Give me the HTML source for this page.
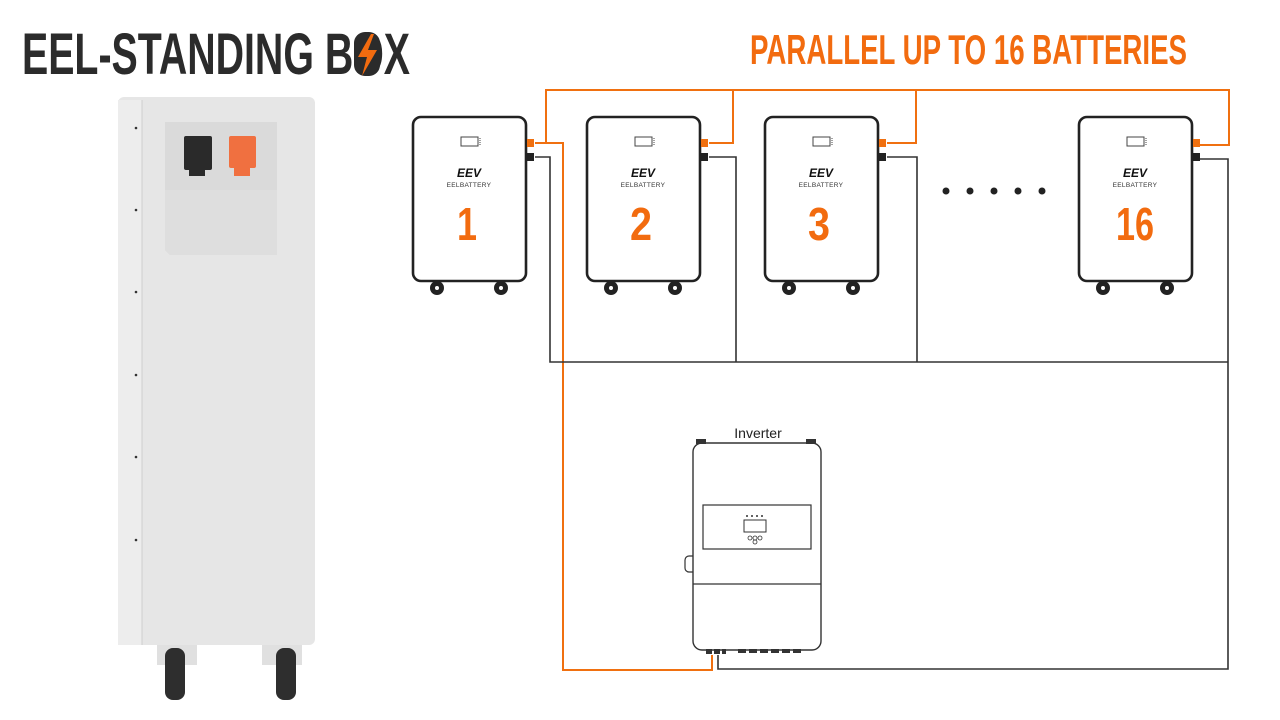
<!DOCTYPE html>
<html><head><meta charset="utf-8"><style>
html,body{margin:0;padding:0;background:#fff;width:1280px;height:720px;overflow:hidden}
svg{display:block}
</style></head><body>
<svg width="1280" height="720" viewBox="0 0 1280 720" xmlns="http://www.w3.org/2000/svg">
<defs>
<g id="bat">
  <rect x="0" y="0" width="113" height="164" rx="8" fill="#fff" stroke="#222" stroke-width="2.6"/>
  <rect x="48" y="20" width="17" height="9" fill="none" stroke="#444" stroke-width="1"/>
  <line x1="67" y1="21" x2="67" y2="28" stroke="#444" stroke-width="1" stroke-dasharray="1,1"/>
  <text x="56" y="60" font-family="Liberation Sans, sans-serif" font-weight="bold" font-style="italic" font-size="12" text-anchor="middle" fill="#111">EEV</text>
  <text x="56" y="70" font-family="Liberation Sans, sans-serif" font-size="6.5" text-anchor="middle" fill="#333" letter-spacing="0.3">EELBATTERY</text>
  <circle cx="24" cy="171" r="7" fill="#222"/><circle cx="24" cy="171" r="2" fill="#fff"/>
  <circle cx="88" cy="171" r="7" fill="#222"/><circle cx="88" cy="171" r="2" fill="#fff"/>
  <rect x="114" y="22" width="7" height="8" fill="#f07010"/>
  <rect x="114" y="36" width="7" height="8" fill="#222"/>
</g>
</defs>

<text x="22" y="74" font-family="Liberation Sans, sans-serif" font-weight="bold" font-size="58" fill="#2b2b2b" textLength="388" lengthAdjust="spacingAndGlyphs">EEL-STANDING BOX</text>
<rect x="354" y="32" width="26" height="44" rx="11" fill="#2b2b2b"/>
<path d="M371 34 L358 57 L367 57 L362 76 L377 50 L368 50 L374 34 Z" fill="#f26b0f"/>
<text x="750" y="64" font-family="Liberation Sans, sans-serif" font-weight="bold" font-size="42" fill="#f26b0f" textLength="437" lengthAdjust="spacingAndGlyphs">PARALLEL UP TO 16 BATTERIES</text>

<!-- left product -->
<rect x="118" y="97" width="197" height="548" rx="6" fill="#e6e6e6"/>
<rect x="118" y="100" width="24" height="545" fill="#ededed"/>
<line x1="142" y1="100" x2="142" y2="645" stroke="#cfcfcf" stroke-width="1"/>
<path d="M165 122 H277 V255 H170 L165 250 Z" fill="#dadada"/>
<path d="M165 190 H277 V255 H170 L165 250 Z" fill="#dedede"/>
<rect x="184" y="136" width="28" height="34" rx="2" fill="#2a2a2a"/>
<rect x="189" y="168" width="16" height="8" fill="#2a2a2a"/>
<rect x="229" y="136" width="27" height="32" rx="2" fill="#f07040"/>
<rect x="234" y="166" width="16" height="10" fill="#f07040"/>
<g fill="#333"><circle cx="136" cy="128" r="1.3"/><circle cx="136" cy="210" r="1.3"/><circle cx="136" cy="292" r="1.3"/><circle cx="136" cy="375" r="1.3"/><circle cx="136" cy="457" r="1.3"/><circle cx="136" cy="540" r="1.3"/></g>
<rect x="157" y="645" width="40" height="20" fill="#e0e0e0"/>
<rect x="262" y="645" width="40" height="20" fill="#e0e0e0"/>
<rect x="165" y="648" width="20" height="52" rx="8" fill="#2e2e2e"/>
<rect x="276" y="648" width="20" height="52" rx="8" fill="#2e2e2e"/>

<g fill="none" stroke="#f07010" stroke-width="2">
  <polyline points="535,143 546,143 546,90 1229,90 1229,145 1200,145"/>
  <polyline points="546,143 563,143 563,670 712,670 712,655"/>
  <polyline points="709,143 733,143 733,90"/>
  <polyline points="887,143 916,143 916,90"/>
</g>
<g fill="none" stroke="#333" stroke-width="1.6">
  <polyline points="535,157 550,157 550,362 1228,362"/>
  <polyline points="709,157 736,157 736,362"/>
  <polyline points="887,157 917,157 917,362"/>
  <polyline points="1200,159 1228,159 1228,669 718,669 718,655"/>
</g>

<use href="#bat" x="413" y="117"/>
<use href="#bat" x="587" y="117"/>
<use href="#bat" x="765" y="117"/>
<use href="#bat" x="1079" y="117"/>
<g font-family="Liberation Sans, sans-serif" font-weight="bold" font-size="46" fill="#f26b0f" text-anchor="middle">
  <text x="467" y="240" textLength="20" lengthAdjust="spacingAndGlyphs">1</text>
  <text x="641" y="240" textLength="22" lengthAdjust="spacingAndGlyphs">2</text>
  <text x="819" y="240" textLength="22" lengthAdjust="spacingAndGlyphs">3</text>
  <text x="1135" y="240" textLength="38" lengthAdjust="spacingAndGlyphs">16</text>
</g>
<g fill="#222"><circle cx="946" cy="191" r="3.5"/><circle cx="970" cy="191" r="3.5"/><circle cx="994" cy="191" r="3.5"/><circle cx="1018" cy="191" r="3.5"/><circle cx="1042" cy="191" r="3.5"/></g>

<text x="758" y="438" font-family="Liberation Sans, sans-serif" font-size="14" fill="#222" text-anchor="middle">Inverter</text>
<rect x="693" y="443" width="128" height="207" rx="9" fill="#fff" stroke="#333" stroke-width="1.4"/>
<rect x="696" y="439" width="10" height="5" fill="#333"/><rect x="806" y="439" width="10" height="5" fill="#333"/>
<rect x="703" y="505" width="108" height="44" fill="none" stroke="#333" stroke-width="1.2"/>
<rect x="744" y="520" width="22" height="12" fill="none" stroke="#333" stroke-width="1"/>
<g fill="#333"><circle cx="747" cy="516" r="1"/><circle cx="752" cy="516" r="1"/><circle cx="757" cy="516" r="1"/><circle cx="762" cy="516" r="1"/></g>
<g fill="none" stroke="#333" stroke-width="0.8"><circle cx="750" cy="538" r="2"/><circle cx="755" cy="538" r="2"/><circle cx="760" cy="538" r="2"/><circle cx="755" cy="542" r="2"/></g>
<line x1="693" y1="584" x2="821" y2="584" stroke="#333" stroke-width="1.2"/>
<path d="M693 556 h-4 a4 4 0 0 0 -4 4 v8 a4 4 0 0 0 4 4 h4" fill="none" stroke="#333" stroke-width="1.2"/>
<g fill="#333">
  <rect x="706" y="649" width="6" height="5"/><rect x="714" y="649" width="6" height="5"/><rect x="722" y="649" width="4" height="5"/>
  <rect x="738" y="649" width="8" height="4"/><rect x="749" y="649" width="8" height="4"/><rect x="760" y="649" width="8" height="4"/><rect x="771" y="649" width="8" height="4"/><rect x="782" y="649" width="8" height="4"/><rect x="793" y="649" width="8" height="4"/>
</g>
</svg>
</body></html>
